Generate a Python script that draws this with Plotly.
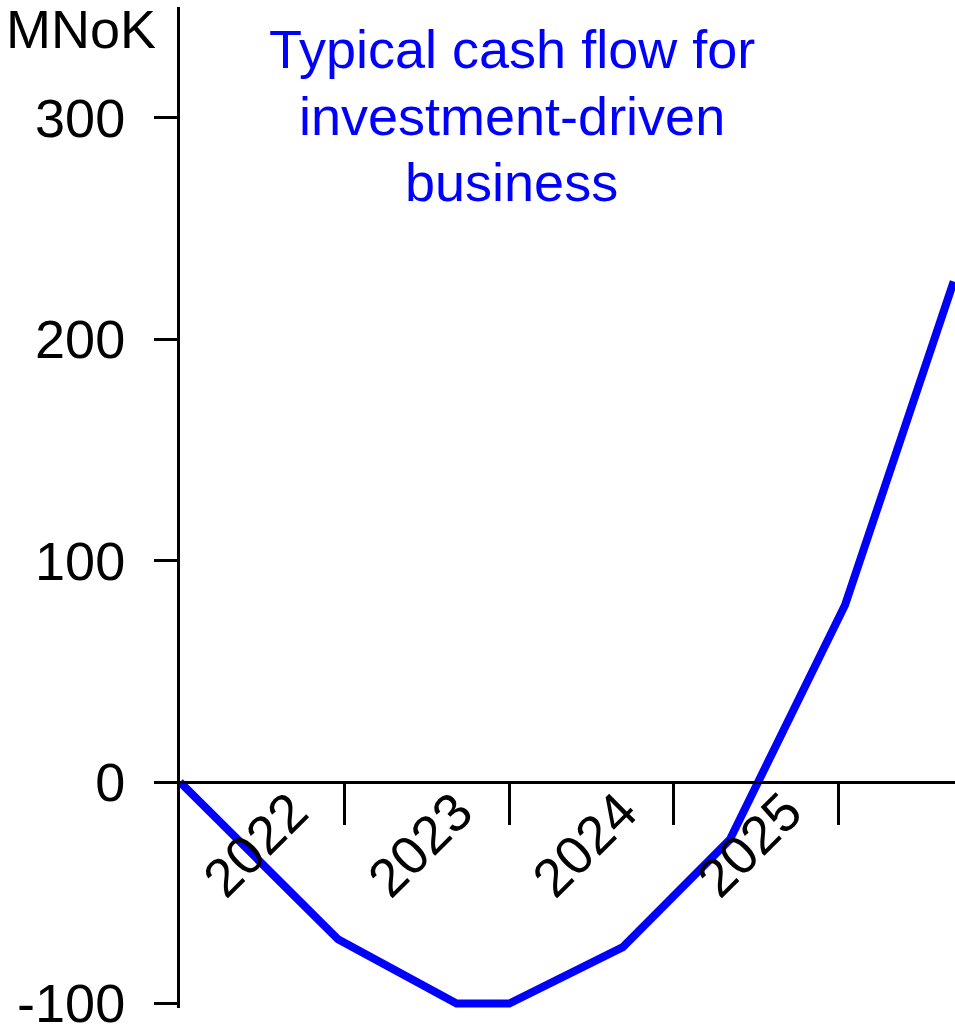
import plotly.graph_objects as go

# ---- data ----
periods = ["2022", "2023", "2024", "2025"]
period_pos = [0, 1, 2, 3]           # start of each year on the x scale
x_pos = [0, 0.96, 1.68, 2.0, 2.69, 3.34, 4.04, 4.70]
cash_flow = [0, -71, -100, -100, -74.5, -26, 80, 226]
y_ticks = [-100, 0, 100, 200, 300]
y_labels = ["-100", "0", "100", "200", "300"]
title_lines = ["Typical cash flow for", "investment-driven", "business"]
unit_text = "MNoK"

FONT = "Liberation Sans, Arial, sans-serif"
FS = 54
y_range = [-102, 350]
x_range = [0, 4.708]
zero_pos = (0 - y_range[0]) / (y_range[1] - y_range[0])

MT, MB, H = 7, 16, 1024
plot_h = H - MT - MB


def px_to_paper_y(px):
    return 1 - (px - MT) / plot_h


fig = go.Figure()
fig.add_trace(go.Scatter(
    x=x_pos, y=cash_flow, mode="lines",
    line=dict(color="#0000FF", width=8),
    hoverinfo="skip", showlegend=False,
))
# invisible trace to activate the label axis
fig.add_trace(go.Scatter(x=[None], y=[None], xaxis="x2", showlegend=False))

annotations = []
for i, line in enumerate(title_lines):
    annotations.append(dict(
        text=line, xref="paper", yref="paper",
        x=0.428, y=px_to_paper_y(17 + i * 66.5), xanchor="center", yanchor="top",
        showarrow=False, align="center",
        font=dict(family=FONT, size=FS, color="#0000FF")))
annotations.append(dict(
    text=unit_text, xref="paper", yref="paper",
    x=-0.128, y=px_to_paper_y(-3), xanchor="center", yanchor="top",
    showarrow=False,
    font=dict(family=FONT, size=FS, color="black")))

fig.update_layout(
    width=955, height=H,
    margin=dict(l=180, r=0, t=MT, b=MB, autoexpand=False),
    paper_bgcolor="white", plot_bgcolor="white",
    font=dict(family=FONT, size=FS, color="black"),
    xaxis=dict(
        range=x_range, anchor="free", position=zero_pos, automargin=False,
        showgrid=False, zeroline=False,
        showline=True, linecolor="black", linewidth=3,
        tickvals=[p + 1 for p in period_pos], showticklabels=False,
        ticks="outside", ticklen=41, tickwidth=2.5, tickcolor="black",
    ),
    xaxis2=dict(
        range=x_range, overlaying="x", anchor="free", position=zero_pos,
        side="bottom", automargin=False,
        showgrid=False, zeroline=False, showline=False,
        tickvals=[p + 0.68 for p in period_pos], ticktext=periods,
        tickangle=-45, ticks="", ticklabelstandoff=-14,
        ticklabeloverflow="allow",
        tickfont=dict(family=FONT, size=FS, color="black"),
    ),
    yaxis=dict(
        range=y_range, showgrid=False, zeroline=False, automargin=False,
        showline=True, linecolor="black", linewidth=3,
        tickvals=y_ticks, ticktext=y_labels,
        ticks="outside", ticklen=23, tickwidth=2.5, tickcolor="black",
        ticklabelstandoff=18, ticklabeloverflow="allow",
        tickfont=dict(family=FONT, size=FS, color="black"),
    ),
    annotations=annotations,
)

fig.write_html(
    "out.html",
    config={"displayModeBar": False},
    post_script="document.body.style.margin='0';document.body.style.overflow='hidden';",
)
